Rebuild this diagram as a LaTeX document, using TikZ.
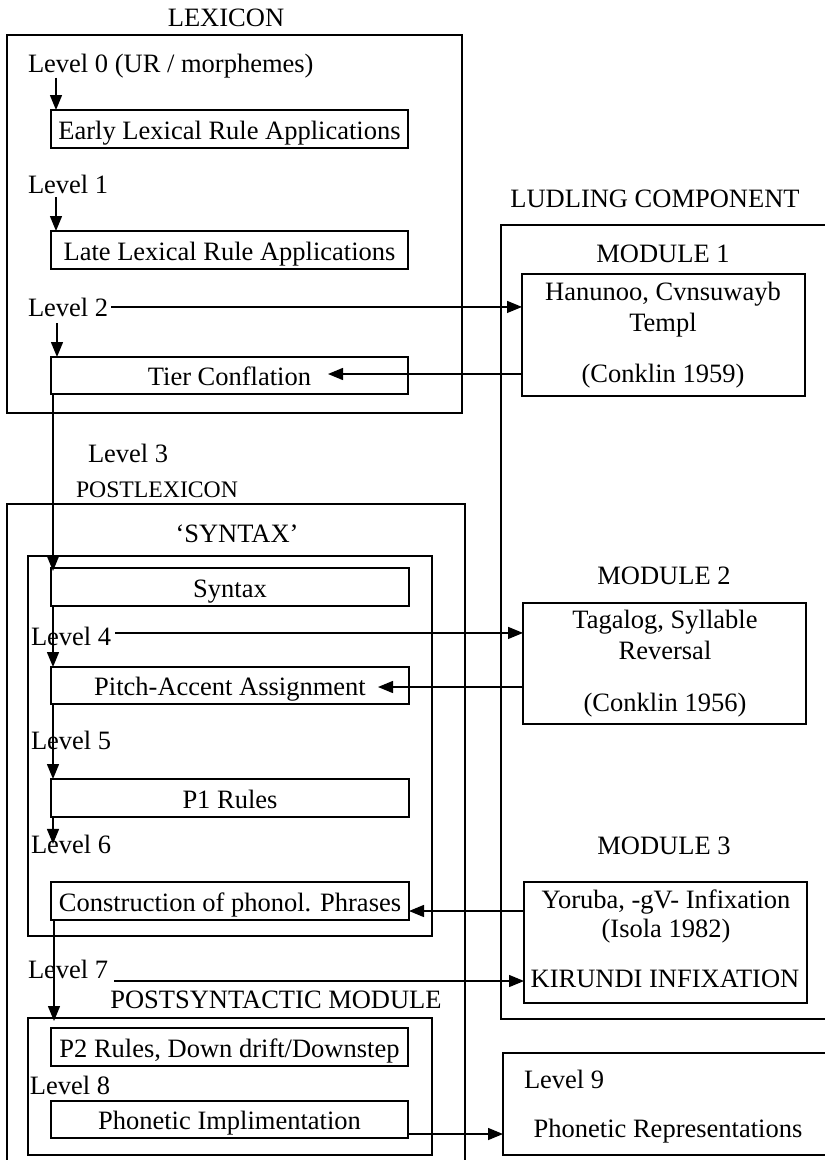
\documentclass[tikz,border=0pt]{standalone}
\usepackage{fontspec}
\setmainfont{Liberation Serif}
\usetikzlibrary{arrows.meta}
\begin{document}
\begin{tikzpicture}[x=1pt,y=-1pt,
  every node/.style={inner sep=0pt, outer sep=0pt},
  rbox/.style={draw, line width=1.6pt, font=\fontsize{26.5pt}{30pt}\selectfont, text height=20pt, text depth=0pt},
  cbox/.style={draw, line width=1.6pt},
  lbl/.style={font=\fontsize{26.5pt}{30pt}\selectfont, anchor=base west},
  ttl/.style={font=\fontsize{26.5pt}{30pt}\selectfont, anchor=base},
  arr/.style={line width=1.4pt, -{Triangle[length=15pt,width=12pt]}},
  ln/.style={line width=1.4pt}
]
\useasboundingbox (0,0) rectangle (825,1160);
\clip (0,0) rectangle (825,1160);

% ---------------- LEXICON ----------------
\node[ttl] (lexT) at (226,26) {LEXICON};
\node[cbox, minimum width=455pt, minimum height=378pt] (lex) at (234.5,224) {};
\node[lbl] (l0) at (28,72) {Level 0 (UR / morphemes)};
\node[rbox, minimum width=357pt, minimum height=38pt] (early) at (229.5,129) {Early Lexical Rule Applications};
\node[lbl] (l1) at (28,193) {Level 1};
\node[rbox, minimum width=357pt, minimum height=38pt] (late) at (229.5,250) {Late Lexical Rule Applications};
\node[lbl] (l2) at (28,316) {Level 2};
\node[rbox, minimum width=357pt, minimum height=37pt] (tier) at (229.5,375.5) {Tier Conflation};

% ---------------- POSTLEXICON ----------------
\node[lbl] (l3) at (88,462) {Level 3};
\node[ttl, font=\fontsize{23.7pt}{28pt}\selectfont] (postT) at (157,497) {POSTLEXICON};
\node[cbox, minimum width=458pt, minimum height=696pt] (post) at (236,852) {};
\node[ttl] (synT) at (237,542) {‘SYNTAX’};
\node[cbox, minimum width=404pt, minimum height=380pt] (synbox) at (230,746) {};
\node[rbox, minimum width=358pt, minimum height=38pt] (syntax) at (230,587) {Syntax};
\node[lbl] (l4) at (31,645) {Level 4};
\node[rbox, minimum width=358pt, minimum height=37pt] (pitch) at (230,685.5) {Pitch-Accent Assignment};
\node[lbl] (l5) at (31,749) {Level 5};
\node[rbox, minimum width=358pt, minimum height=38pt] (p1) at (230,798) {P1 Rules};
\node[lbl] (l6) at (31,853) {Level 6};
\node[rbox, minimum width=358pt, minimum height=38pt] (constr) at (230,901) {Construction of phonol. Phrases};
\node[lbl] (l7) at (28,978) {Level 7};
\node[ttl] (psT) at (276,1008) {POSTSYNTACTIC MODULE};
\node[cbox, minimum width=404pt, minimum height=137pt] (postsyn) at (230,1086.5) {};
\node[rbox, minimum width=357pt, minimum height=38pt] (p2) at (229.5,1047) {P2 Rules, Down drift/Downstep};
\node[lbl] (l8) at (30,1094) {Level 8};
\node[rbox, minimum width=357pt, minimum height=37pt] (phon) at (229.5,1119.5) {Phonetic Implimentation};

% ---------------- LUDLING COMPONENT ----------------
\node[ttl] (ludT) at (655,207) {LUDLING COMPONENT};
\node[cbox, minimum width=399pt, minimum height=794pt] (lud) at (700.5,622) {};
\node[ttl] (m1T) at (663,262) {MODULE 1};
\node[cbox, minimum width=283pt, minimum height=122pt] (m1) at (663.5,335) {};
\node[ttl] (m1a) at (663,300) {Hanunoo, Cvnsuwayb};
\node[ttl] (m1b) at (663,331) {Templ};
\node[ttl] (m1c) at (663,382) {(Conklin 1959)};
\node[ttl] (m2T) at (664,584) {MODULE 2};
\node[cbox, minimum width=283pt, minimum height=121pt] (m2) at (664.5,663.5) {};
\node[ttl] (m2a) at (665,628) {Tagalog, Syllable};
\node[ttl] (m2b) at (665,659) {Reversal};
\node[ttl] (m2c) at (665,711) {(Conklin 1956)};
\node[ttl] (m3T) at (664,854) {MODULE 3};
\node[cbox, minimum width=283pt, minimum height=121pt] (m3) at (665.5,942.5) {};
\node[ttl] (m3a) at (666,908) {Yoruba, -gV- Infixation};
\node[ttl] (m3b) at (666,937) {(Isola 1982)};
\node[ttl] (m3c) at (665,987) {KIRUNDI INFIXATION};
\node[cbox, minimum width=397pt, minimum height=102pt] (l9box) at (701.5,1104) {};
\node[lbl] (l9) at (524,1088) {Level 9};
\node[ttl] (phrep) at (668,1137) {Phonetic Representations};

% ---------------- connectors ----------------
\draw[arr] ([xshift=5pt]early.north west |- l0.south) -- ([xshift=5pt]early.north west);
\draw[arr] ([xshift=5pt,yshift=-4pt]late.north west |- l1.south) -- ([xshift=5pt]late.north west);
\draw[arr] ([xshift=6pt,yshift=-7pt]tier.north west |- l2.south) -- ([xshift=6pt]tier.north west);
\draw[arr] ([xshift=3pt]l2.east) -- (l2.east -| m1.west);
\coordinate (tierIn) at ([xshift=-80pt,yshift=1.5pt]tier.east);
\draw[arr] (m1.west |- tierIn) -- (tierIn);

\draw[arr] ([xshift=2pt]tier.south west) -- ([xshift=2pt,yshift=-3pt]syntax.north west);
\draw[arr] ([xshift=2pt]syntax.south west) -- ([xshift=2pt]pitch.north west);
\draw[arr] ([xshift=2pt]pitch.south west) -- ([xshift=2pt]p1.north west);
\draw[arr] ([xshift=2pt]p1.south west) -- ([xshift=2pt]p1.south west |- l6.center);
\draw[arr] ([xshift=3pt]constr.south west) -- ([xshift=3pt,yshift=-3pt]postsyn.north west -| constr.south west);

\draw[arr] ([xshift=4pt,yshift=3pt]l4.east) -- ([yshift=3pt]l4.east -| m2.west);
\coordinate (pitchIn) at ([xshift=-31pt,yshift=-1.5pt]pitch.east);
\draw[arr] (m2.west |- pitchIn) -- (pitchIn);
\coordinate (constrIn) at ([yshift=-10pt]constr.east);
\draw[arr] (m3.west |- constrIn) -- (constrIn);
\draw[arr] ([xshift=6pt,yshift=-3pt]l7.base east) -- ([yshift=-3pt]l7.base east -| m3.west);
\coordinate (phonOut) at ([yshift=-14.5pt]phon.east);
\draw[arr] (phonOut) -- (phonOut -| l9box.west);
\end{tikzpicture}
\end{document}
